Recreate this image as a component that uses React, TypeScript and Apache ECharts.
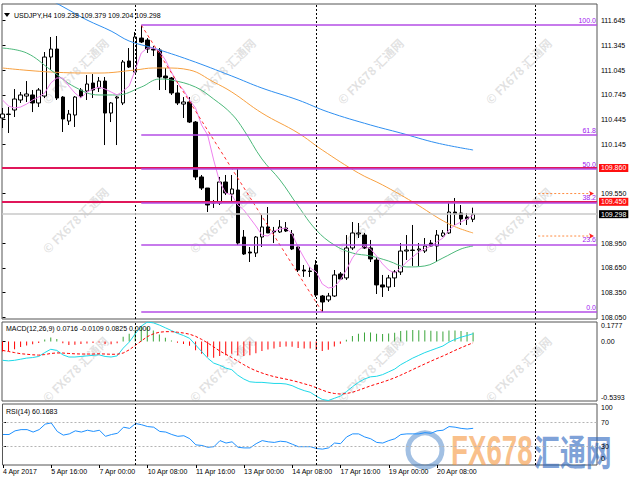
import React, { useEffect, useRef } from "react";
import * as echarts from "echarts";

// ---------- texts ----------
const symbolTitle = "USDJPY,H4 109.238 109.379 109.204 109.298";
const macdTitle = "MACD(12,26,9) 0.0716 -0.0109 0.0825 0.0000";
const rsiTitle = "RSI(14) 60.1683";
const watermarkText = "© FX678 汇通网";

// ---------- time axis ----------
const timeTickBars = [0, 8, 16, 24, 32, 40, 48, 56, 64, 72];
const timeTickLabels = ["4 Apr 2017", "5 Apr 16:00", "7 Apr 00:00", "10 Apr 08:00", "11 Apr 16:00", "13 Apr 00:00", "14 Apr 08:00", "17 Apr 16:00", "19 Apr 00:00", "20 Apr 08:00"];
const separatorBars = [22, 52, 88.3];

// ---------- value axes ----------
const priceTicks = [111.645, 111.345, 111.045, 110.745, 110.445, 110.145, 109.55, 108.95, 108.65, 108.35, 108.05];
const macdTicks = [0.1777, 0, -0.5393];
const macdTickLabels = ["0.1777", "0.00", "-0.5393"];
const rsiTicks = [100, 70, 30, 0];
const rsiTickLabels = ["100", "70", "30", "0"];

// ---------- candles (H4 bars) ----------
const opens = [110.466, 110.508, 110.563, 110.684, 110.732, 110.745, 110.648, 110.732, 111.205, 111.302, 110.720, 110.429, 110.502, 110.805, 110.793, 110.890, 110.829, 110.914, 110.526, 110.708, 110.648, 111.157, 111.023, 111.435, 111.411, 111.302, 111.290, 110.975, 110.951, 110.769, 110.635, 110.660, 110.417, 109.751, 109.617, 109.448, 109.435, 109.690, 109.544, 109.593, 109.023, 108.841, 108.829, 109.023, 109.145, 109.096, 109.084, 109.132, 109.060, 108.902, 108.623, 108.611, 108.684, 108.308, 108.260, 108.308, 108.575, 108.527, 108.890, 109.060, 109.047, 108.890, 108.744, 108.442, 108.417, 108.527, 108.599, 108.853, 108.865, 108.865, 108.853, 108.950, 108.914, 109.035, 109.072, 109.326, 109.314, 109.266, 109.238];
const closes = [110.514, 110.514, 110.696, 110.745, 110.757, 110.648, 110.805, 111.205, 111.302, 110.708, 110.454, 110.514, 110.720, 110.732, 110.878, 110.805, 110.914, 110.526, 110.648, 110.720, 111.145, 111.084, 111.448, 111.387, 111.302, 111.290, 110.963, 110.951, 110.769, 110.648, 110.660, 110.417, 109.751, 109.617, 109.411, 109.435, 109.690, 109.557, 109.605, 108.950, 108.817, 108.829, 109.023, 109.145, 109.072, 109.084, 109.145, 109.096, 108.878, 108.623, 108.611, 108.605, 108.320, 108.235, 108.308, 108.563, 108.514, 108.890, 109.072, 109.072, 108.890, 108.757, 108.442, 108.417, 108.527, 108.599, 108.853, 108.865, 108.860, 108.878, 108.914, 108.914, 109.047, 109.072, 109.326, 109.302, 109.242, 109.242, 109.298];
const lows = [110.345, 110.284, 110.478, 110.648, 110.660, 110.538, 110.599, 110.708, 111.048, 110.684, 110.296, 110.381, 110.357, 110.708, 110.684, 110.708, 110.781, 110.138, 110.417, 110.138, 110.623, 111.072, 111.011, 111.375, 111.254, 111.217, 110.805, 110.805, 110.745, 110.623, 110.466, 110.405, 109.714, 109.593, 109.326, 109.375, 109.411, 109.532, 109.448, 108.926, 108.805, 108.720, 108.781, 108.902, 109.072, 108.950, 109.072, 109.084, 108.865, 108.599, 108.539, 108.539, 108.296, 108.114, 108.235, 108.296, 108.502, 108.502, 108.865, 109.011, 108.878, 108.720, 108.332, 108.296, 108.369, 108.417, 108.563, 108.744, 108.672, 108.672, 108.829, 108.902, 108.720, 109.023, 109.060, 109.169, 109.169, 109.169, 109.204];
const highs = [110.587, 110.599, 110.817, 110.781, 110.914, 110.805, 110.829, 111.266, 111.448, 111.460, 110.732, 110.563, 110.732, 110.829, 110.987, 110.999, 110.963, 110.963, 110.660, 110.732, 111.169, 111.314, 111.508, 111.593, 111.435, 111.338, 111.314, 111.072, 110.963, 110.866, 110.720, 110.720, 110.429, 109.775, 109.617, 109.472, 109.751, 109.775, 109.775, 109.860, 109.108, 108.902, 109.035, 109.290, 109.387, 109.145, 109.229, 109.205, 109.108, 108.926, 108.684, 108.660, 108.744, 108.320, 108.345, 108.623, 108.599, 109.047, 109.205, 109.193, 109.072, 108.987, 108.769, 108.563, 108.563, 108.623, 108.950, 109.047, 109.169, 108.950, 109.011, 108.987, 109.108, 109.108, 109.460, 109.496, 109.411, 109.314, 109.379];

// ---------- moving averages ----------
const blueBars = [5, 8, 11, 14, 18, 21, 25, 31, 38, 43, 49, 54, 61, 66, 72, 78];
const blueVals = [112.017, 111.896, 111.775, 111.654, 111.52, 111.399, 111.314, 111.169, 110.975, 110.829, 110.684, 110.538, 110.381, 110.284, 110.163, 110.078];
const orangeBars = [0, 8, 16, 22, 25, 27, 31, 35, 38, 43, 49, 53, 59, 63, 68, 74, 78];
const orangeVals = [111.072, 111.023, 111.011, 111.048, 111.072, 111.072, 111.048, 110.902, 110.781, 110.526, 110.284, 110.078, 109.799, 109.654, 109.448, 109.181, 109.072];
const greenBars = [0, 4, 8, 12, 16, 19, 23, 26, 28, 32, 35, 38, 40, 43, 46, 49, 52, 55, 58, 61, 64, 67, 70, 73, 76, 78];
const greenVals = [111.314, 111.254, 111.048, 110.841, 110.745, 110.745, 110.841, 110.938, 110.926, 110.841, 110.696, 110.514, 110.32, 109.969, 109.714, 109.399, 109.108, 108.926, 108.829, 108.793, 108.732, 108.66, 108.672, 108.769, 108.878, 108.914];
const pinkVals = [110.684, 110.611, 110.587, 110.599, 110.635, 110.684, 110.72, 110.769, 110.89, 110.951, 110.951, 110.854, 110.769, 110.708, 110.781, 110.817, 110.841, 110.817, 110.781, 110.745, 110.793, 110.854, 111.048, 111.254, 111.314, 111.314, 111.278, 111.169, 111.023, 110.89, 110.805, 110.684, 110.587, 110.381, 110.26, 109.957, 109.69, 109.557, 109.532, 109.411, 109.351, 109.254, 109.157, 109.047, 109.035, 109.096, 109.12, 109.132, 109.06, 108.902, 108.769, 108.648, 108.599, 108.454, 108.405, 108.417, 108.502, 108.623, 108.769, 108.865, 108.914, 108.878, 108.793, 108.696, 108.623, 108.587, 108.648, 108.72, 108.781, 108.841, 108.878, 108.914, 108.962, 109.011, 109.108, 109.169, 109.205, 109.242, 109.29];

// ---------- fibonacci & horizontal lines ----------
const fibStartBar = 23;
const fibEndBar = 53;
const fibHigh = 111.593;
const fibLow = 108.114;
const fibLevels = [0, 23.6, 38.2, 50, 61.8, 100];
const fibLabels = ["0.0", "23.6", "38.2", "50.0", "61.8", "100.0"];
const redLevels = [109.86, 109.45];
const bidPrice = 109.298;
const alertStartBar = 88.8;
const alertPrices = [109.55, 109.035];

// ---------- MACD ----------
const macdLine = [
  -0.170, -0.175, -0.170, -0.160, -0.150, -0.145, -0.135, -0.100, -0.070, -0.080,
  -0.120, -0.140, -0.140, -0.135, -0.130, -0.125, -0.120, -0.135, -0.140, -0.130,
  -0.060, -0.005, 0.070, 0.140, 0.177, 0.170, 0.150, 0.125, 0.100, 0.075,
  0.055, 0.030, -0.030, -0.090, -0.150, -0.195, -0.215, -0.240, -0.255, -0.305,
  -0.340, -0.365, -0.370, -0.370, -0.375, -0.380, -0.380, -0.385, -0.400, -0.425,
  -0.445, -0.460, -0.495, -0.525, -0.535, -0.515, -0.495, -0.455, -0.410, -0.370,
  -0.340, -0.320, -0.315, -0.300, -0.275, -0.250, -0.210, -0.180, -0.150, -0.125,
  -0.100, -0.080, -0.060, -0.040, -0.005, 0.020, 0.040, 0.055, 0.0716,
];
const macdSignal = [
  -0.080, -0.090, -0.100, -0.110, -0.115, -0.120, -0.123, -0.118, -0.108, -0.103,
  -0.104, -0.108, -0.111, -0.113, -0.113, -0.113, -0.111, -0.113, -0.115, -0.115,
  -0.104, -0.075, -0.035, 0.005, 0.045, 0.070, 0.085, 0.090, 0.090, 0.085,
  0.078, 0.067, 0.048, 0.020, -0.012, -0.048, -0.085, -0.115, -0.145, -0.178,
  -0.210, -0.240, -0.265, -0.285, -0.303, -0.318, -0.330, -0.341, -0.353, -0.367,
  -0.383, -0.398, -0.418, -0.440, -0.460, -0.471, -0.476, -0.472, -0.460, -0.442,
  -0.422, -0.402, -0.385, -0.368, -0.349, -0.329, -0.305, -0.280, -0.254, -0.228,
  -0.203, -0.178, -0.154, -0.131, -0.106, -0.080, -0.056, -0.033, -0.0109,
];
const macdHist = [
  -0.090, -0.085, -0.070, -0.050, -0.035, -0.025, -0.012, 0.018, 0.038, 0.023,
  -0.016, -0.032, -0.029, -0.022, -0.017, -0.012, -0.009, -0.022, -0.025, -0.015,
  0.044, 0.070, 0.105, 0.135, 0.132, 0.100, 0.065, 0.035, 0.010, -0.010,
  -0.023, -0.037, -0.078, -0.110, -0.138, -0.147, -0.130, -0.125, -0.110, -0.127,
  -0.130, -0.125, -0.105, -0.085, -0.072, -0.062, -0.050, -0.044, -0.047, -0.058,
  -0.062, -0.062, -0.077, -0.085, -0.075, -0.044, -0.019, 0.017, 0.050, 0.072,
  0.082, 0.082, 0.070, 0.068, 0.074, 0.079, 0.095, 0.100, 0.104, 0.103,
  0.103, 0.098, 0.094, 0.091, 0.101, 0.100, 0.096, 0.088, 0.0825,
];

// ---------- RSI ----------
const rsiVals = [50, 50, 56, 58, 58, 54, 58, 67, 69, 55, 49, 51, 56, 54, 57, 55, 57, 47, 50, 52, 62, 60, 68, 66, 63, 62, 55, 54, 50, 47, 48, 43, 33, 32, 29, 30, 40, 36, 38, 29, 28, 28, 35, 40, 38, 37, 39, 38, 34, 30, 30, 30, 27, 26, 28, 36, 35, 46, 51, 51, 46, 43, 37, 36, 40, 43, 50, 51, 51, 51, 53, 52, 56, 57, 63, 62, 60, 59, 60.1683];

// ---------- layout ----------
const FONT = '"Liberation Sans", Arial, sans-serif';
const X_MIN = -0.083;
const X_MAX = 98.54;
const GRID_LEFT = 2;
const GRID_W = 595;
const FRAME = "#555";
const WM_X = [75, 222, 370, 518];
const WM_Y = [71, 220, 369];

function buildOption(): any {
  const bars = opens.map((_, i) => i);
  const candleData = opens.map((o, i) => [i, o, closes[i], lows[i], highs[i]]);
  const fibPrice = (lv: number) => fibLow + ((fibHigh - fibLow) * lv) / 100;

  const sepLines = (color = "#000") =>
    separatorBars.map((b) => ({ xAxis: b, lineStyle: { color, type: [2, 2], width: 1 } }));

  const xAxisBase = (i: number) => ({
    type: "value",
    gridIndex: i,
    min: X_MIN,
    max: X_MAX,
    splitLine: { show: false },
    axisLine: { show: false },
    axisTick: { show: false },
    axisLabel: { show: false },
  });

  const textLabel = { fontSize: 7, fontFamily: FONT, color: "#000" };

  const labelAxis = (
    grid: number,
    min: number,
    max: number,
    values: number[],
    texts: string[],
    vAlign: string,
    ticks: boolean,
    pad?: number[]
  ) => ({
    type: "value",
    gridIndex: grid,
    position: "right",
    min,
    max,
    splitLine: { show: false },
    axisLine: { show: false },
    axisTick: { show: ticks, customValues: values, length: 3, lineStyle: { color: "#000" } },
    axisLabel: {
      customValues: values,
      margin: 4,
      verticalAlign: vAlign,
      padding: pad,
      ...textLabel,
      formatter: (v: number) => {
        const i = values.findIndex((t) => Math.abs(t - v) < 1e-6);
        return i >= 0 ? texts[i] : "";
      },
    },
  });

  const maLine = (xs: number[], ys: number[], color: string, smooth: boolean | number) => ({
    type: "line",
    xAxisIndex: 0,
    yAxisIndex: 0,
    data: xs.map((x, i) => [x, ys[i]]),
    symbol: "none",
    smooth,
    silent: true,
    lineStyle: { color, width: 1 },
    z: 3,
  });

  const watermarks: any[] = [];
  WM_Y.forEach((y) =>
    WM_X.forEach((x) =>
      watermarks.push({
        type: "text",
        x,
        y,
        rotation: 0.78,
        z: 0,
        silent: true,
        style: {
          text: watermarkText,
          fill: "rgba(150,150,150,0.28)",
          fontSize: 12,
          fontWeight: "bold",
          fontFamily: '"Noto Sans CJK SC", "Liberation Sans"',
          align: "center",
          verticalAlign: "middle",
        },
      })
    )
  );

  return {
    animation: false,
    backgroundColor: "#fff",
    grid: [
      { left: GRID_LEFT, top: 4, width: GRID_W, height: 315, show: true, borderColor: FRAME, borderWidth: 1 },
      { left: GRID_LEFT, top: 322, width: GRID_W, height: 79, show: true, borderColor: FRAME, borderWidth: 1 },
      { left: GRID_LEFT, top: 404, width: GRID_W, height: 61, show: true, borderColor: FRAME, borderWidth: 1 },
    ],
    xAxis: [
      xAxisBase(0),
      xAxisBase(1),
      {
        ...xAxisBase(2),
        axisTick: { show: true, customValues: timeTickBars, length: 3, lineStyle: { color: "#000" } },
        axisLabel: {
          show: true,
          customValues: timeTickBars,
          formatter: (v: number) => timeTickLabels[timeTickBars.indexOf(Math.round(v))] ?? "",
          align: "left",
          margin: 3,
          ...textLabel,
        },
      },
    ],
    yAxis: [
      {
        type: "value",
        gridIndex: 0,
        position: "right",
        min: 108.029,
        max: 111.848,
        splitLine: { show: false },
        axisLine: { show: false },
        axisTick: { show: true, customValues: priceTicks, length: 3, lineStyle: { color: "#000" } },
        axisLabel: { customValues: priceTicks, formatter: (v: number) => v.toFixed(3), margin: 4, ...textLabel },
      },
      labelAxis(1, macdTicks[2], macdTicks[0], [macdTicks[1]], [macdTickLabels[1]], "middle", true),
      labelAxis(2, 0, 100, [rsiTicks[1], rsiTicks[2]], [rsiTickLabels[1], rsiTickLabels[2]], "middle", true),
      labelAxis(1, macdTicks[2], macdTicks[0], [macdTicks[0]], [macdTickLabels[0]], "top", false),
      labelAxis(1, macdTicks[2], macdTicks[0], [macdTicks[2]], [macdTickLabels[2]], "bottom", false),
      labelAxis(2, 0, 100, [rsiTicks[0]], [rsiTickLabels[0]], "top", false),
      labelAxis(2, 0, 100, [rsiTicks[3]], [rsiTickLabels[3]], "bottom", false, [0, 0, 3, 0]),
    ],
    graphic: [
      ...watermarks,
      { type: "polygon", shape: { points: [[4, 13], [10, 13], [7, 17]] }, style: { fill: "#000" }, z: 10 },
      { type: "text", x: 14, y: 15, z: 10, style: { text: symbolTitle, fill: "#000", fontSize: 7, fontFamily: FONT, verticalAlign: "middle" } },
      { type: "text", x: 6, y: 328, z: 10, style: { text: macdTitle, fill: "#000", fontSize: 7, fontFamily: FONT, verticalAlign: "middle" } },
      { type: "text", x: 6, y: 411, z: 10, style: { text: rsiTitle, fill: "#000", fontSize: 7, fontFamily: FONT, verticalAlign: "middle" } },
      { type: "circle", shape: { cx: 425, cy: 450, r: 17 }, style: { fill: "none", stroke: "rgba(70,130,200,0.5)", lineWidth: 5 }, z: 0 },
      { type: "text", x: 451, y: 451, z: 0, scaleX: 0.66, style: { text: "FX678", fill: "rgba(245,150,60,0.6)", fontSize: 42, fontWeight: "bold", fontFamily: FONT, verticalAlign: "middle" } },
      { type: "text", x: 534, y: 451, z: 0, scaleX: 0.72, style: { text: "汇通网", fill: "rgba(40,100,190,0.6)", fontSize: 36, fontWeight: "bold", fontFamily: '"Noto Sans CJK SC"', verticalAlign: "middle" } },
    ],
    series: [
      {
        type: "candlestick",
        xAxisIndex: 0,
        yAxisIndex: 0,
        data: candleData,
        encode: { x: 0, y: [1, 2, 3, 4] },
        barWidth: 4,
        silent: true,
        z: 2,
        itemStyle: { color: "#fff", color0: "#000", borderColor: "#000", borderColor0: "#000", borderWidth: 1 },
        markLine: {
          silent: true,
          symbol: ["none", "none"],
          label: { show: false },
          data: [
            ...sepLines(),
            {
              yAxis: bidPrice,
              lineStyle: { color: "#c8c8c8", width: 1.5, type: "solid" },
              label: { show: true, position: "end", distance: 2, formatter: bidPrice.toFixed(3), backgroundColor: "#000", color: "#fff", padding: [1, 2, 0, 2], fontSize: 7, fontFamily: FONT },
            },
            ...redLevels.map((p) => ({
              yAxis: p,
              lineStyle: { color: "#e0175a", width: 2, type: "solid" },
              label: { show: true, position: "end", distance: 2, formatter: p.toFixed(3), backgroundColor: "#ff1010", color: "#fff", padding: [1, 2, 0, 2], fontSize: 7, fontFamily: FONT },
            })),
          ],
        },
      },
      maLine(blueBars, blueVals, "#2f8ff0", 0.4),
      maLine(orangeBars, orangeVals, "#f7a040", 0.4),
      maLine(greenBars, greenVals, "#4cb87a", 0.4),
      maLine(bars, pinkVals, "#ee82ee", false),
      {
        type: "line",
        xAxisIndex: 0,
        yAxisIndex: 0,
        data: [[fibStartBar, fibHigh], [fibEndBar, fibLow]],
        symbol: "none",
        silent: true,
        z: 4,
        lineStyle: { color: "#ff3030", width: 1, type: [3, 3] },
        markLine: {
          silent: true,
          symbol: ["none", "none"],
          data: fibLevels.map((lv, i) => [
            {
              name: fibLabels[i],
              coord: [fibStartBar, fibPrice(lv)],
              lineStyle: { color: "#b54ee6", width: 1.5, type: "solid" },
              label: { show: true, position: "insideEndTop", formatter: "{b}", distance: [1, 1], color: "#a020f0", fontSize: 7, fontFamily: FONT },
            },
            { coord: [X_MAX, fibPrice(lv)] },
          ]),
        },
      },
      ...alertPrices.map((p) => ({
        type: "line",
        xAxisIndex: 0,
        yAxisIndex: 0,
        data: [
          { value: [alertStartBar, p], symbol: "none" },
          { value: [X_MAX - 0.5, p], symbol: "arrow", symbolSize: [4, 5], symbolRotate: -90, itemStyle: { color: "#ff2020" } },
        ],
        showSymbol: true,
        silent: true,
        z: 4,
        lineStyle: { color: "#ff8c40", width: 1, type: [2, 2] },
      })),
      // MACD
      {
        type: "bar",
        xAxisIndex: 1,
        yAxisIndex: 1,
        data: macdHist.map((v, i) => [i, v]),
        barWidth: 1,
        silent: true,
        itemStyle: { color: (p: any) => (p.value[1] >= 0 ? "#3aa53a" : "#ff0000") },
        markLine: { silent: true, symbol: ["none", "none"], label: { show: false }, data: sepLines() },
      },
      {
        type: "line",
        xAxisIndex: 1,
        yAxisIndex: 1,
        data: macdLine.map((v, i) => [i, v]),
        symbol: "none",
        silent: true,
        lineStyle: { color: "#1ed8e8", width: 1 },
      },
      {
        type: "line",
        xAxisIndex: 1,
        yAxisIndex: 1,
        data: macdSignal.map((v, i) => [i, v]),
        symbol: "none",
        silent: true,
        lineStyle: { color: "#ff0000", width: 1, type: [3, 2] },
      },
      // RSI
      {
        type: "line",
        xAxisIndex: 2,
        yAxisIndex: 2,
        data: rsiVals.map((v, i) => [i, v]),
        symbol: "none",
        silent: true,
        lineStyle: { color: "#1e90ff", width: 1 },
        markLine: {
          silent: true,
          symbol: ["none", "none"],
          label: { show: false },
          data: [
            ...sepLines(),
            { yAxis: 70, lineStyle: { color: "#b4b4b4", type: [2, 2], width: 1 } },
            { yAxis: 30, lineStyle: { color: "#b4b4b4", type: [2, 2], width: 1 } },
          ],
        },
      },
    ],
  };
}

export default function App() {
  const ref = useRef<HTMLDivElement>(null);
  useEffect(() => {
    document.body.style.margin = "0";
    const chart = echarts.init(ref.current!, null, { renderer: "svg" });
    chart.setOption(buildOption());
    return () => chart.dispose();
  }, []);
  return <div ref={ref} style={{ width: 630, height: 490, background: "#fff" }} />;
}
